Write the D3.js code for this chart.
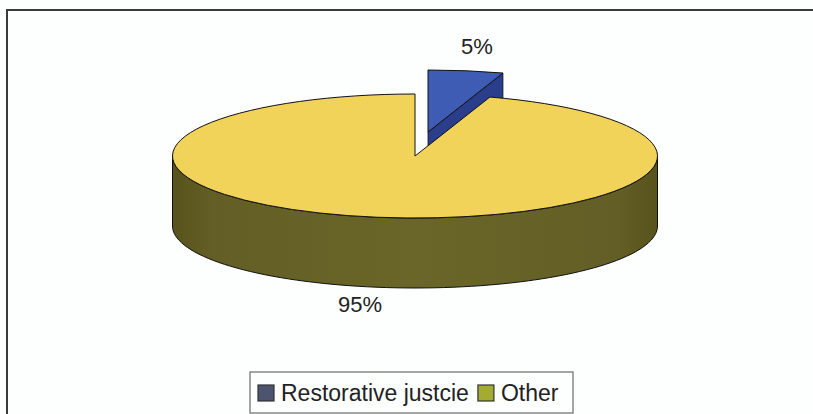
<!DOCTYPE html>
<html>
<head>
<meta charset="utf-8">
<script src="https://cdn.jsdelivr.net/npm/d3@7"></script>
<style>
  html, body { margin: 0; padding: 0; background: #fdfefe; }
  svg { display: block; }
  text { font-family: Arial, "Liberation Sans", sans-serif; fill: #222; }
</style>
</head>
<body>
<svg id="chart" width="813" height="414"></svg>
<script>
// ---- data ----
const categories = ["Restorative justcie", "Other"];
const values = [5, 95];
const labels = ["5%", "95%"];

// ---- styling / layout ----
const W = 813, H = 414;
const topColors = ["#3e5cb4", "#f1d35a"];
const sideColors = ["#2a3e8c", "#676227"];
const legendColors = ["#4d5470", "#a3ab30"];
const cx = 415, cy = 156, rx = 242.5, ry = 62, depth = 70;
const explode = [[13, -24], [0, 0]];
const labelOffset = [[11, -23], [-17, 19]];

const svg = d3.select("#chart");

// chart frame (top + left border)
svg.append("path")
  .attr("d", `M7,${H} L7,10 L${W},10`)
  .attr("fill", "none").attr("stroke", "#3a3a3a").attr("stroke-width", 2);

const defs = svg.append("defs");
const g1 = defs.append("linearGradient").attr("id", "sideGrad")
  .attr("x1", "0%").attr("x2", "100%").attr("y1", "0%").attr("y2", "0%");
[["0%", "#57531c"], ["8%", "#635e25"], ["50%", "#6a6528"], ["92%", "#635e25"], ["100%", "#57531c"]]
  .forEach(([o, c]) => g1.append("stop").attr("offset", o).attr("stop-color", c));

const pie = d3.pie().sort(null).value(d => d);
const arcs = pie(values);

// elliptical point helper (angles as d3: 0 at 12 o'clock, clockwise)
const px = a => rx * Math.sin(a);
const py = a => -ry * Math.cos(a);

const arcGen = d3.arc().innerRadius(0).outerRadius(rx);

// draw slices back to front: the exploded small slice first
const order = [0, 1];
order.forEach(i => {
  const d = arcs[i];
  const [dx, dy] = explode[i];
  const g = svg.append("g").attr("transform", `translate(${cx + dx},${cy + dy})`);

  const ea = d.endAngle;
  if (ea > 0 && ea < Math.PI) {
    g.append("path")
      .attr("d", `M0,0 L${px(ea)},${py(ea)} L${px(ea)},${py(ea) + depth} L0,${depth} Z`)
      .attr("fill", sideColors[i]).attr("stroke", "#111").attr("stroke-width", 0.8);
  }
  const sa = d.startAngle;
  if (sa > Math.PI && sa < 2 * Math.PI) {
    g.append("path")
      .attr("d", `M0,0 L${px(sa)},${py(sa)} L${px(sa)},${py(sa) + depth} L0,${depth} Z`)
      .attr("fill", sideColors[i]).attr("stroke", "#111").attr("stroke-width", 0.8);
  }
  const a0 = Math.max(sa, Math.PI / 2), a1 = Math.min(ea, 3 * Math.PI / 2);
  if (a1 > a0) {
    const p = d3.path();
    const N = 80;
    for (let k = 0; k <= N; k++) {
      const a = a0 + (a1 - a0) * k / N;
      k === 0 ? p.moveTo(px(a), py(a)) : p.lineTo(px(a), py(a));
    }
    for (let k = N; k >= 0; k--) {
      const a = a0 + (a1 - a0) * k / N;
      p.lineTo(px(a), py(a) + depth);
    }
    p.closePath();
    g.append("path").attr("d", p.toString())
      .attr("fill", i === 1 ? "url(#sideGrad)" : sideColors[i])
      .attr("stroke", "#111").attr("stroke-width", 1);
  }
  g.append("path")
    .attr("d", arcGen(d))
    .attr("transform", `scale(1,${ry / rx})`)
    .attr("fill", topColors[i])
    .attr("stroke", "#111").attr("stroke-width", 1)
    .attr("vector-effect", "non-scaling-stroke");
});

// data labels
arcs.forEach((d, i) => {
  const mid = (d.startAngle + d.endAngle) / 2;
  const [dx, dy] = explode[i];
  const bottom = Math.cos(mid) < 0 ? depth : 0;
  const x = cx + dx + px(mid) + labelOffset[i][0];
  const y = cy + dy + py(mid) + bottom + labelOffset[i][1];
  svg.append("text")
    .attr("x", x).attr("y", y)
    .attr("text-anchor", "middle").attr("dominant-baseline", "middle")
    .style("font-size", "22px")
    .text(labels[i]);
});

// legend
const leg = svg.append("g");
leg.append("rect")
  .attr("x", 250).attr("y", 372).attr("width", 323).attr("height", 41)
  .attr("fill", "#fdfefe").attr("stroke", "#6a6a6a").attr("stroke-width", 1.2);
let lx = 258;
categories.forEach((c, i) => {
  leg.append("rect")
    .attr("x", lx).attr("y", 385).attr("width", 16).attr("height", 16)
    .attr("fill", legendColors[i]).attr("stroke", "#333").attr("stroke-width", 1.2);
  const t = leg.append("text")
    .attr("x", lx + 23).attr("y", 401)
    .style("font-size", "23px")
    .text(c);
  lx += 23 + t.node().getComputedTextLength() + 9;
});
</script>
</body>
</html>
